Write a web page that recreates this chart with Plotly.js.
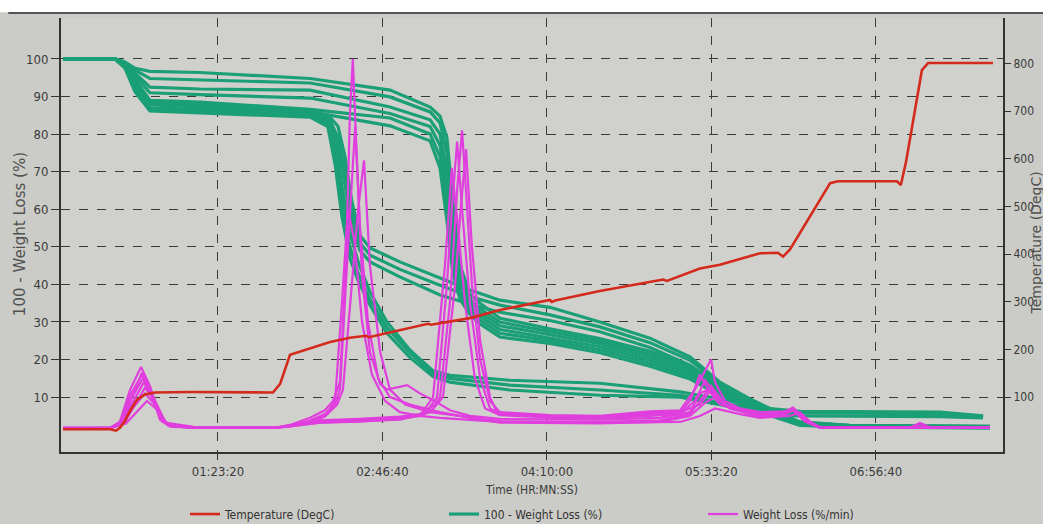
<!DOCTYPE html>
<html><head><meta charset="utf-8">
<script src="https://cdn.plot.ly/plotly-3.0.1.min.js"></script>
<style>html,body{margin:0;padding:0;background:#cbccc7;}#chart{width:1043px;height:524px;}</style>
</head><body><div id="chart"></div>
<script>
// ---------- DATA (time in seconds) ----------
var xTickVals = [5000, 10000, 15000, 20000, 25000];
var xTickText = ['01:23:20', '02:46:40', '04:10:00', '05:33:20', '06:56:40'];
var leftTicks = [10, 20, 30, 40, 50, 60, 70, 80, 90, 100];
var rightTicks = [100, 200, 300, 400, 500, 600, 700, 800];

// Temperature (DegC)
var tempTime = [290,1720,1900,2020,2170,2330,2540,2780,3090,4150,6670,6890,7190,7490,8410,9010,9500,9590,10530,11380,11480,12660,13570,15090,15150,15250,16610,18530,18650,19650,20260,21480,22020,22180,22390,23610,23850,25640,25760,25920,26400,26590,28560];
var tempVals = [33,33,30,36,50,72,95,106,110,111,110,128,189,196,216,225,229,226,240,254,252,266,283,304,300,303,323,347,344,370,378,402,403,395,410,549,553,553,545,595,786,801,801];

// 100 - Weight Loss (%) : group U (second decomposition step)
var tU = [290,1870,2170,2480,2930,4450,7800,10230,11450,11750,11960,12140,12360,12660,12970,13570,15090,16610,18130,19350,20260,21480,22690,24210,28470];
var wU1 = [100,100,99.2,97.5,96.7,96.4,94.8,91.7,87.2,84.8,79,62,45,37.5,35,31,28.2,25.6,22.2,18.3,13.2,8.2,3.3,2.4,2.2];
var wU2 = [100,100,99,97,94.8,94.4,93.6,89.9,85.9,83,75,57,42,36,33.5,30,27.4,24.9,21.4,17.6,12.6,7.7,3.0,2.3,2.1];
var wU3 = [100,100,98.8,96.3,92.5,92.0,91.7,87.2,83.8,80,70,52,40,35,32.5,29,26.6,24.2,20.6,16.9,12.0,7.2,2.8,2.2,2.0];
var wU4 = [100,100,98.6,95.5,91,90.5,89.6,85.5,82,77,66,49,38,34,31.5,28,25.8,23.4,19.8,16.2,11.4,6.8,2.7,2.1,1.9];
var wU5 = [100,100,98.4,94.5,89,88.5,86.6,84.3,80,74,61,46,37,33,30.5,27,25,22.6,19,15.5,11,6.4,2.6,2.0,1.9];
var wU6 = [100,100,98.2,93.8,88,87.5,86.0,82.2,78.2,71,57,43,36,32,29.5,26,24.3,21.8,18.2,14.8,10.5,6.0,2.5,2.0,1.8];
// group B (first step, shoulder near 50-40)
var tB = [290,1870,2170,2480,2930,4450,7800,8410,8650,8860,9070,9320,9620,10530,11750,12660,13570,15090,16610,18130,19350,20260,21480,22690,24210,28470];
var wB1 = [100,100,98.3,93.5,88.6,88.0,85.6,84.5,82,74,62,53,49.7,46,41.7,38.5,35.8,33.9,30,25.7,20.7,14,8,3.4,2.5,2.2];
var wB2 = [100,100,98.1,93.0,87.8,87.2,85.0,83.5,79,70,59,51,47.8,44,39.8,36.8,34.5,31.9,28.7,24.5,19.8,13.5,7.6,3.2,2.4,2.1];
var wB3 = [100,100,98.0,92.5,87.0,86.5,84.8,82.5,77,66,56,49,46,42,37.2,34.8,32.6,30.4,27.4,23.2,18.5,12.8,7.2,3.0,2.3,2.0];
// group C (first step, down to ~15)
var tC = [290,1870,2170,2480,2930,4450,7800,8340,8560,8770,9010,9260,9620,10140,10840,11540,12050,13870,16610,19050,20260,21480,22690,26950,28260];
var wC1 = [100,100,97.9,92.0,86.8,86.3,85.3,84,78,66,54,46,38,30,22.5,17,15.8,14.5,13.7,11.4,9.5,7.2,6.2,6.0,5.0];
var wC2 = [100,100,97.8,91.6,86.5,86.0,84.8,83,75,62,50,43,36,28.5,21.7,16.3,15.0,13.2,11.9,10.5,8.6,6.5,5.8,5.6,4.8];
var wC3 = [100,100,97.6,91.2,86.2,85.7,84.5,82,72,58,47,41,34.5,27,20.5,15.5,14.0,11.9,10.5,10.0,8.0,5.6,5.0,4.8,4.5];

// Weight Loss (%/min)
var tM1 = [290,1720,2020,2390,2690,2930,3240,3540,4450,6730,7190,7800,8250,8500,8710,8890,9010,9100,9200,9380,9620,9930,10140,10440,10750,11140,11660,12050,12660,13570,16610,18440,19350,19650,19900,20260,20570,21480,22240,22480,22850,23300,26040,26340,26650,28470];
var dM1 = [1.7,1.8,3,10,16.5,12,4,2.2,1.8,1.8,2.6,4.5,6.5,9,14,45,85,100,78,42,22,13.5,12,12.5,13.2,11,8.6,6.5,5,4.2,4.0,4.5,6,11,12,9,7,5.5,6,7,4,1.9,1.9,3.0,2.0,1.9];
var tM2 = [290,1720,2080,2420,2750,2990,3300,3600,4450,6730,7190,7800,8250,8560,8710,8920,9170,9320,9560,9870,10230,10840,11750,12660,13570,16610,18440,19350,19650,19990,20410,21480,22240,22480,22850,23300,26040,26340,26650,28470];
var dM2 = [1.8,1.8,3.5,9,14,10,3.5,2.2,1.9,1.9,2.4,3.8,5.5,8,12,45,82,55,30,15,10,8,6,4.5,3.6,3.4,3.8,5.5,9,13,8,5,5.5,6.5,3.5,1.9,1.9,2.8,2.0,1.9];
var tM3 = [290,1720,2140,2480,2780,3090,3390,3690,4450,6730,7190,7800,8250,8620,8800,9070,9260,9440,9620,9930,10230,10690,11450,12360,13570,16610,18440,19350,19810,20110,20570,21480,22240,22480,22850,23300,28470];
var dM3 = [1.7,1.7,3,8,12.5,9,3.5,2.1,1.8,1.8,2.2,3.2,4.8,8,12,40,60,73,45,22,12,8,6,5,3.2,3.0,3.4,5,8.5,10,7,4.8,5.5,6.8,3.6,1.9,1.9];
var tM4 = [290,1720,2200,2570,2840,3180,3480,4450,6730,7190,7800,8250,8560,8770,8950,9140,9380,9680,10080,10530,11140,11750,12970,13570,16610,19050,19650,20110,20870,21480,22390,22690,23000,23300,28470];
var dM4 = [1.8,1.8,3,6.5,9,6.5,2.5,1.9,1.9,2.3,3.5,5,9,35,60,52,30,16,9,6,5,4.5,3.8,3.4,3.2,3.4,5,7,5.5,4.5,5,6,3.5,2.0,1.9];
var tM5 = [290,1720,2020,2330,2660,2930,3240,3540,4450,6730,7190,8100,9320,10530,11140,11600,11750,12050,12270,12420,12540,12720,12970,13270,13570,15090,16610,18130,19050,19500,19810,19990,20110,20410,20870,21480,22240,22480,22690,23000,23300,26040,26340,26650,28470];
var dM5 = [1.7,1.8,3.5,12,18,13,4.5,2.3,1.8,1.8,2.5,3.8,4.2,4.8,5.5,8,10,35,65,81,65,40,20,9,6,5.2,5.0,6.2,6.5,12,17,20,14,9,7,6,6.2,7.2,5.5,3,1.9,1.9,3.1,2.0,1.9];
var tM6 = [290,1720,2050,2390,2720,2990,3300,3600,4450,6730,7190,8100,9320,10530,11290,11660,11960,12110,12270,12420,12660,12970,13270,13570,15090,16610,18130,19050,19350,19650,19900,20260,20870,21480,22240,22480,22850,23300,28470];
var dM6 = [1.8,1.8,3.2,10,15,11,4,2.2,1.8,1.8,2.4,3.5,4.0,4.5,5.5,10,40,60,78,60,35,15,7,5.5,4.8,4.6,5.5,6,9,16,12,8,6.5,5.5,6,7,4,1.9,1.9];
var tM7 = [290,1720,2110,2450,2780,3090,3390,4450,6730,7190,8100,9320,10530,11450,11840,12210,12360,12540,12720,12970,13270,13480,15090,16610,18130,19050,19500,19810,20110,20570,21480,22240,22480,22850,23300,28470];
var dM7 = [1.7,1.7,2.8,7.5,11,8,3.2,1.8,1.8,2.2,3.2,3.6,4.0,6,10,40,58,76,50,25,10,6,4.5,4.3,5,5.5,9,14.5,11,7,5,5.5,6.5,3.6,1.9,1.9];
var tM8 = [290,1720,2020,2360,2690,2960,3270,3570,4450,6730,7190,8100,9320,10530,11140,11540,11900,12110,12300,12510,12810,13120,13570,15090,16610,18130,19050,19650,19990,20410,21480,22240,22480,22850,23300,28470];
var dM8 = [1.8,1.8,3.2,11,16,12,4.2,2.3,1.8,1.8,2.3,3.2,3.5,4.2,5,10,45,71,55,35,15,7,5.2,4.6,4.5,5.8,6,8,12,8,5.2,5.8,7,3.8,1.9,1.9];

// ---------- STYLE ----------
var GREEN = '#1a9f76', MAGENTA = '#e03ede', RED = '#d42a1d';
var COND = "'DejaVu Sans Condensed', 'Liberation Sans Narrow', sans-serif";
var WIDE = "'DejaVu Sans', Verdana, sans-serif";

var traces = [];
var greenSets = [[tU,wU1],[tU,wU2],[tU,wU3],[tU,wU4],[tU,wU5],[tU,wU6],[tB,wB1],[tB,wB2],[tB,wB3],[tC,wC1],[tC,wC2],[tC,wC3]];
greenSets.forEach(function(s, i){
  traces.push({x: s[0], y: s[1], type: 'scatter', mode: 'lines', name: '100 - Weight Loss (%)',
    legendgroup: 'w', showlegend: i === 0, legendrank: 2,
    line: {color: GREEN, width: 3.2}, hoverinfo: 'skip'});
});
var magSets = [[tM1,dM1],[tM2,dM2],[tM3,dM3],[tM4,dM4],[tM5,dM5],[tM6,dM6],[tM7,dM7],[tM8,dM8]];
magSets.forEach(function(s, i){
  traces.push({x: s[0], y: s[1], type: 'scatter', mode: 'lines', name: 'Weight Loss (%/min)',
    legendgroup: 'd', showlegend: i === 0, legendrank: 3,
    line: {color: MAGENTA, width: 2.2}, hoverinfo: 'skip'});
});
traces.push({x: tempTime, y: tempVals, yaxis: 'y2', type: 'scatter', mode: 'lines', name: 'Temperature (DegC)',
  legendgroup: 't', legendrank: 1, line: {color: RED, width: 2.6}, hoverinfo: 'skip'});

var gridStyle = {showgrid: true, gridcolor: '#3a3a3a', griddash: 'dash', gridwidth: 1};

var layout = {
  width: 1043, height: 524,
  margin: {l: 61, r: 40, t: 18, b: 72, pad: 0},
  paper_bgcolor: '#cbccc7', plot_bgcolor: '#d0d1cc',
  showlegend: true,
  legend: {orientation: 'h', xref: 'container', yref: 'container',
    x: 185 / 1043, xanchor: 'left', y: 0.019, yanchor: 'middle',
    entrywidth: 214, entrywidthmode: 'pixels', bgcolor: 'rgba(0,0,0,0)',
    font: {family: COND, size: 12, color: '#333'}, traceorder: 'normal'},
  xaxis: Object.assign({
    range: [228, 28865], tickmode: 'array', tickvals: xTickVals, ticktext: xTickText,
    showline: true, linecolor: '#333', linewidth: 2, mirror: false,
    ticks: 'outside', ticklen: 6, tickcolor: '#333', zeroline: false,
    tickfont: {family: COND, size: 13, color: '#3a3a3a'},
    title: {text: 'Time (HR:MN:SS)', font: {family: COND, size: 12, color: '#3a3a3a'}, standoff: 8}
  }, gridStyle),
  yaxis: Object.assign({
    range: [-4.6, 110.9], tickmode: 'array', tickvals: leftTicks,
    showline: true, linecolor: '#333', linewidth: 2,
    ticks: 'outside', ticklen: 8, tickcolor: '#333', zeroline: false,
    tickfont: {family: COND, size: 13, color: '#3a3a3a'}
  }, gridStyle),
  yaxis2: {
    overlaying: 'y', side: 'right', range: [-14.7, 895.2], tickmode: 'array', tickvals: rightTicks,
    showgrid: false, showline: true, linecolor: '#333', linewidth: 2, zeroline: false,
    ticks: 'outside', ticklen: 6, tickcolor: '#333',
    tickfont: {family: COND, size: 12, color: '#3a3a3a'}
  },
  annotations: [
    {text: '100 - Weight Loss (%)', xref: 'paper', yref: 'paper', x: -0.0435, y: 0.502,
     xanchor: 'center', yanchor: 'middle', textangle: -90, showarrow: false,
     font: {family: WIDE, size: 15, color: '#505050'}},
    {text: 'Temperature (DegC)', xref: 'paper', yref: 'paper', x: 1.0345, y: 0.4816,
     xanchor: 'center', yanchor: 'middle', textangle: -90, showarrow: false,
     font: {family: WIDE, size: 14, color: '#505050'}}
  ],
  shapes: [
    {type: 'rect', xref: 'paper', yref: 'paper', x0: -0.1, x1: 1.1, y0: 1.013, y1: 1.1,
     fillcolor: '#ffffff', line: {width: 0}, layer: 'above'},
    {type: 'line', xref: 'paper', yref: 'paper', x0: -0.056, x1: 1.1, y0: 1.0115, y1: 1.0115,
     line: {color: '#555', width: 2}, layer: 'above'}
  ]
};

Plotly.newPlot('chart', traces, layout, {displayModeBar: false, staticPlot: true});
</script></body></html>
